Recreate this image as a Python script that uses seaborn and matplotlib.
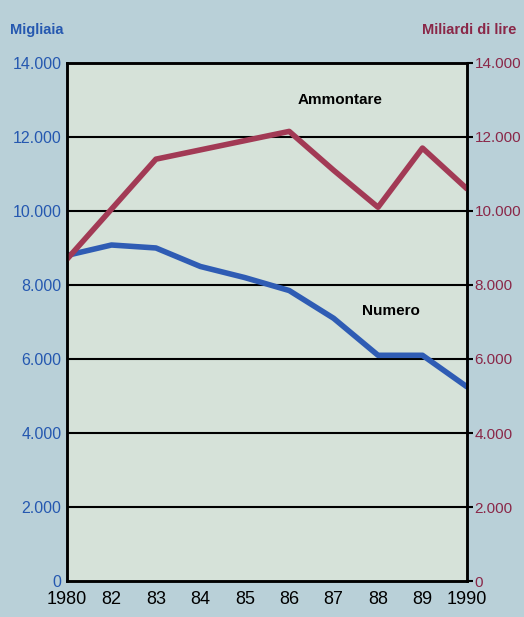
import numpy as np
import pandas as pd
import seaborn as sns
import matplotlib.pyplot as plt
from matplotlib.ticker import FuncFormatter

# Data
anni = ["1980", "82", "83", "84", "85", "86", "87", "88", "89", "1990"]
numero = [8800, 9080, 9000, 8500, 8200, 7850, 7100, 6100, 6100, 5250]        # migliaia
ammontare = [8700, 10050, 11400, 11650, 11900, 12150, 11100, 10100, 11700, 10600]  # miliardi di lire
y_ticks = [0, 2000, 4000, 6000, 8000, 10000, 12000, 14000]

bg = "#b9d0d8"
plot_bg = "#d6e2d9"
blue = "#2f5cb4"
red = "#a23a55"
blue_txt = "#2558b0"
red_txt = "#8a2748"

sns.set_style("white")
plt.rcParams["font.family"] = ["Liberation Sans", "DejaVu Sans"]

df = pd.DataFrame({"pos": np.arange(len(anni)), "anno": anni,
                   "Numero": numero, "Ammontare": ammontare})

fig = plt.figure(figsize=(5.24, 6.17), dpi=100, facecolor=bg)
ax = fig.add_axes([0.128, 0.0583, 0.763, 0.8397])
ax.set_facecolor(plot_bg)
ax2 = ax.twinx()

sns.lineplot(data=df, x="pos", y="Numero", ax=ax, color=blue, linewidth=4)
sns.lineplot(data=df, x="pos", y="Ammontare", ax=ax2, color=red, linewidth=4)

fmt = FuncFormatter(lambda v, p: f"{int(v):,}".replace(",", "."))
for a, c in [(ax, blue_txt), (ax2, red_txt)]:
    a.set_ylim(0, 14000)
    a.set_yticks(y_ticks)
    a.yaxis.set_major_formatter(fmt)
    a.tick_params(axis="y", colors=c, labelsize=11.5, length=0, pad=4)
    a.set_ylabel("")
    for s in a.spines.values():
        s.set_color("black")
        s.set_linewidth(1.8)

ax2.tick_params(axis="y", length=4, width=1.5, color="black", labelcolor=red_txt,
                labelsize=11, pad=1.5)
ax.set_xlim(0, len(anni) - 1)
ax.set_xticks(df["pos"])
ax.set_xticklabels(anni)
ax.tick_params(axis="x", labelsize=13, length=5, width=1.5, colors="black", pad=2)
ax.set_xlabel("")

for v in y_ticks[1:-1]:
    ax.axhline(v, color="black", linewidth=1.5, zorder=1)

ax2.text(6.15, 13000, "Ammontare", fontsize=11, fontweight="bold", ha="center", va="center", color="black")
ax2.text(7.3, 7300, "Numero", fontsize=11, fontweight="bold", ha="center", va="center", color="black")

fig.text(0.02, 0.952, "Migliaia", fontsize=10.5, fontweight="bold", color=blue_txt, ha="left", va="center")
fig.text(0.985, 0.952, "Miliardi di lire", fontsize=10.5, fontweight="bold", color=red_txt, ha="right", va="center")

fig.savefig("out.png", dpi=100, facecolor=bg)
